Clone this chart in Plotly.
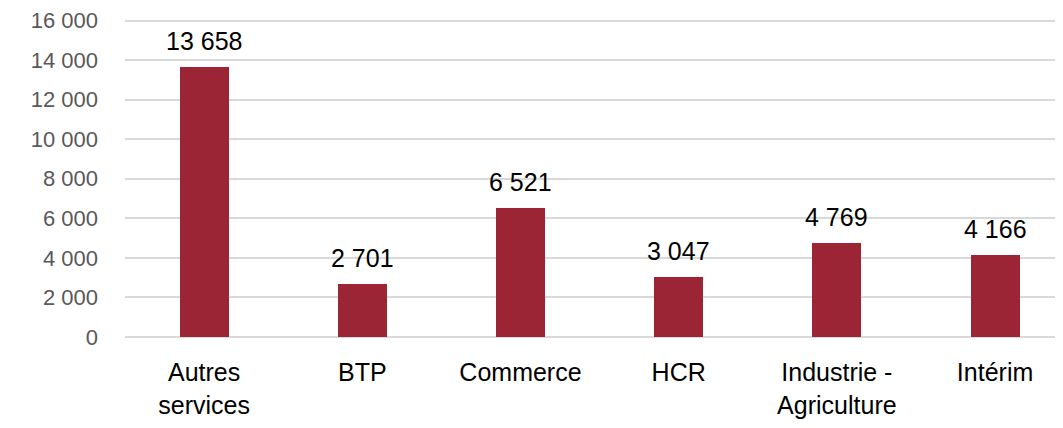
"""Bar chart: effectifs par secteur."""
import plotly.graph_objects as go

# ---- data ----------------------------------------------------------------------

categories = ["Autres<br>services", "BTP", "Commerce", "HCR", "Industrie -<br>Agriculture", "Intérim"]
values = [13658, 2701, 6521, 3047, 4769, 4166]
y_ticks = [0, 2000, 4000, 6000, 8000, 10000, 12000, 14000, 16000]

BAR_COLOR = "#9B2535"
FONT = "Liberation Sans Narrow, Arial Narrow, Liberation Sans, Arial, sans-serif"


def fr_int(v: int) -> str:
    return f"{v:,}".replace(",", " ")


xs = list(range(len(categories)))

fig = go.Figure(go.Bar(
    x=xs,
    y=values,
    width=0.31,
    marker=dict(color=BAR_COLOR, line=dict(width=0)),
    hovertemplate="%{y:,d}<extra></extra>",
))

# value labels above bars
for x, v in zip(xs, values):
    fig.add_annotation(
        x=x, y=v, text=fr_int(v), showarrow=False,
        yanchor="bottom", yshift=10,
        font=dict(size=25, color="#000000", family=FONT),
    )

# page body adds an 8px offset, margins compensate for it;
# range topped slightly above 16000 so the top gridline isn't clipped
fig.update_layout(
    width=1063,
    height=428,
    margin=dict(l=117, r=0, t=11.4, b=99),
    plot_bgcolor="white",
    paper_bgcolor="white",
    separators=", ",
    showlegend=False,
    font=dict(family=FONT),
    bargap=0,
    xaxis=dict(
        tickmode="array",
        tickvals=xs,
        ticktext=categories,
        range=[-0.5, 5.48],
        showgrid=False,
        zeroline=False,
        showline=False,
        ticks="",
        automargin=False,
        ticklabelstandoff=18,
        tickfont=dict(size=25, color="#000000"),
    ),
    yaxis=dict(
        range=[0, 16080],
        tickvals=y_ticks,
        tickformat=",d",
        showgrid=True,
        gridcolor="#D9D9D9",
        gridwidth=1.5,
        zeroline=True,
        zerolinecolor="#D9D9D9",
        zerolinewidth=1.5,
        showline=False,
        ticks="",
        automargin=False,
        ticklabelstandoff=26,
        tickfont=dict(size=22, color="#595959"),
    ),
)

fig.write_html("out.html")
